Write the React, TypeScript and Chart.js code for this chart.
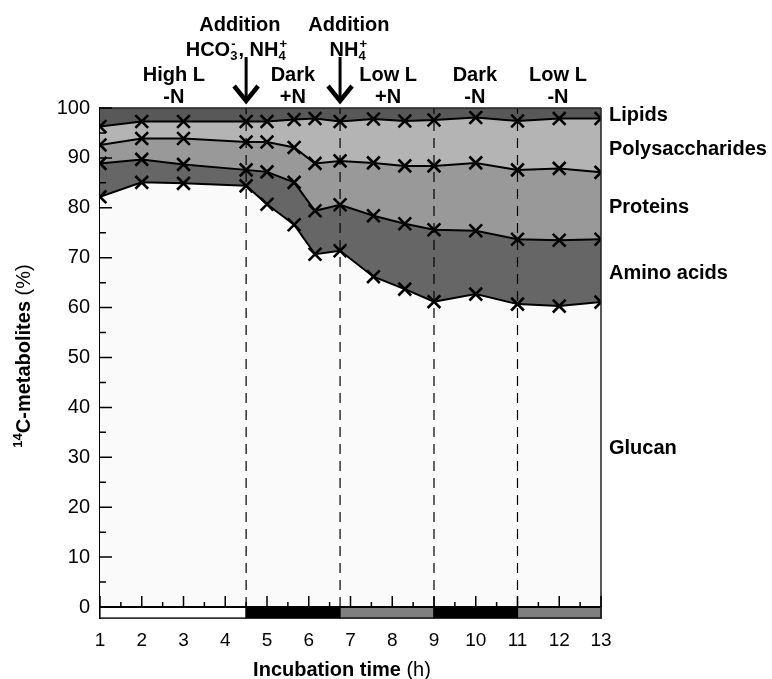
import React, { useEffect, useRef } from "react";
import { Chart, registerables } from "chart.js";

Chart.register(...registerables);

// ---- Data ----
const hours = [1, 2, 3, 4.5, 5, 5.65, 6.15, 6.75, 7.55, 8.3, 9, 10, 11, 12, 13];
// cumulative upper boundaries (%) of each stacked fraction
const glucanTop = [82.2, 85.1, 84.9, 84.4, 80.7, 76.6, 70.7, 71.4, 66.2, 63.7, 61.2, 62.7, 60.7, 60.3, 61.1];
const aminoTop = [88.9, 89.7, 88.7, 87.6, 87.2, 85.1, 79.4, 80.6, 78.4, 76.8, 75.6, 75.4, 73.7, 73.5, 73.7];
const proteinTop = [92.6, 93.9, 93.9, 93.2, 93.2, 92.1, 88.9, 89.4, 89.0, 88.4, 88.4, 89.0, 87.6, 87.9, 87.1];
const polyTop = [96.3, 97.3, 97.3, 97.3, 97.3, 97.7, 97.9, 97.3, 97.8, 97.4, 97.6, 98.1, 97.4, 97.9, 97.9];
const lipidTop = [100, 100, 100, 100, 100, 100, 100, 100, 100, 100, 100, 100, 100, 100, 100];

const seriesNames = ["Glucan", "Amino acids", "Proteins", "Polysaccharides", "Lipids"];
const seriesLabelValues = [31.7, 66.9, 80.0, 91.6, 98.6];

const xTicks = [1, 2, 3, 4, 5, 6, 7, 8, 9, 10, 11, 12, 13];
const yTicks = [0, 10, 20, 30, 40, 50, 60, 70, 80, 90, 100];

const phaseBounds = [1, 4.5, 6.75, 9, 11, 13];
const phaseKinds = ["high", "dark", "low", "dark", "low"];
const phaseLine1 = ["High L", "Dark", "Low L", "Dark", "Low L"];
const phaseLine2 = ["-N", "+N", "+N", "-N", "-N"];
const phaseLabelCenters = [2.77, 5.62, 7.9, 9.98, 11.97];
const additionTimes = [4.5, 6.75];
const additionLabelCenters = [4.35, 6.96];

const FONT = '"Liberation Sans", Arial, Helvetica, sans-serif';
const fillColors = ["#fafafa", "#666666", "#999999", "#b4b4b4", "#585858"];
const kindColors: Record<string, string> = { high: "#ffffff", dark: "#000000", low: "#808080" };

type Seg = { t: string; bold?: boolean; kind?: "n" | "sub" | "sup" };

function segFont(s: Seg) {
  const size = s.kind === "sub" || s.kind === "sup" ? 13 : 20;
  return `${s.bold ? "bold " : ""}${size}px ${FONT}`;
}

function layoutRich(ctx: CanvasRenderingContext2D, segs: Seg[]) {
  const items: { s: Seg; dx: number }[] = [];
  let x = 0;
  for (let i = 0; i < segs.length; i++) {
    const s = segs[i];
    ctx.font = segFont(s);
    const w = ctx.measureText(s.t).width;
    if (s.kind === "sub" && segs[i + 1] && segs[i + 1].kind === "sup") {
      const n = segs[i + 1];
      ctx.font = segFont(n);
      const w2 = ctx.measureText(n.t).width;
      items.push({ s, dx: x });
      items.push({ s: n, dx: x + 1 });
      x += Math.max(w, w2 + 1) + 1;
      i++;
      continue;
    }
    items.push({ s, dx: x });
    x += w;
  }
  return { items, width: x };
}

function drawRich(ctx: CanvasRenderingContext2D, segs: Seg[], cx: number, baseline: number) {
  const { items, width } = layoutRich(ctx, segs);
  const x0 = cx - width / 2;
  ctx.textAlign = "left";
  ctx.textBaseline = "alphabetic";
  for (const it of items) {
    ctx.font = segFont(it.s);
    let yy = baseline;
    if (it.s.kind === "sub") yy += 4;
    if (it.s.kind === "sup") yy -= 8;
    ctx.fillText(it.s.t, x0 + it.dx, yy);
  }
}

const decorPlugin = {
  id: "decor",
  afterDatasetsDraw(chart: any) {
    const { ctx, chartArea } = chart;
    const x = chart.scales.x;
    const y = chart.scales.y;
    const y0 = y.getPixelForValue(0);
    const yb = y.getPixelForValue(y.min);
    ctx.save();
    // dashed phase boundaries
    ctx.strokeStyle = "#000";
    ctx.lineWidth = 1.2;
    ctx.setLineDash([10, 7]);
    for (const t of phaseBounds.slice(1, -1)) {
      const px = x.getPixelForValue(t);
      ctx.beginPath();
      ctx.moveTo(px, y0);
      ctx.lineTo(px, chartArea.top);
      ctx.stroke();
    }
    ctx.setLineDash([]);
    // light / dark bar
    for (let i = 0; i < phaseKinds.length; i++) {
      const a = x.getPixelForValue(phaseBounds[i]);
      const b = x.getPixelForValue(phaseBounds[i + 1]);
      ctx.fillStyle = kindColors[phaseKinds[i]];
      ctx.fillRect(a, y0, b - a, yb - y0);
      ctx.strokeStyle = "#000";
      ctx.lineWidth = 1.2;
      ctx.strokeRect(a, y0, b - a, yb - y0);
    }
    // zero line
    ctx.strokeStyle = "#000";
    ctx.lineWidth = 2;
    ctx.beginPath();
    ctx.moveTo(chartArea.left, y0);
    ctx.lineTo(chartArea.right, y0);
    ctx.stroke();
    // right and top frame
    ctx.lineWidth = 1.5;
    ctx.strokeStyle = "#222";
    ctx.beginPath();
    ctx.moveTo(chartArea.right, chartArea.top);
    ctx.lineTo(chartArea.right, yb);
    ctx.moveTo(chartArea.left, chartArea.top);
    ctx.lineTo(chartArea.right, chartArea.top);
    ctx.stroke();
    // inside ticks on x axis
    ctx.strokeStyle = "#000";
    ctx.lineWidth = 1.5;
    ctx.beginPath();
    for (let v = x.min; v <= x.max + 1e-6; v += 0.5) {
      const px = x.getPixelForValue(v);
      const len = Math.abs(v - Math.round(v)) < 1e-6 ? 11 : 5;
      ctx.moveTo(px, y0);
      ctx.lineTo(px, y0 - len);
    }
    // inside ticks on y axis
    for (let v = 0; v <= 100; v += 5) {
      const py = y.getPixelForValue(v);
      const len = v % 10 === 0 ? 12 : 6;
      ctx.moveTo(chartArea.left, py);
      ctx.lineTo(chartArea.left + len, py);
    }
    ctx.stroke();
    ctx.restore();
  },
  afterDraw(chart: any) {
    const { ctx, chartArea } = chart;
    const x = chart.scales.x;
    const y = chart.scales.y;
    ctx.save();
    ctx.fillStyle = "#000";
    // series labels on the right
    ctx.font = `bold 20px ${FONT}`;
    ctx.textAlign = "left";
    ctx.textBaseline = "middle";
    seriesNames.forEach((n, i) => {
      ctx.fillText(n, chartArea.right + 8, y.getPixelForValue(seriesLabelValues[i]));
    });
    // phase labels above
    ctx.textAlign = "center";
    ctx.textBaseline = "alphabetic";
    phaseLine1.forEach((t, i) => {
      const px = x.getPixelForValue(phaseLabelCenters[i]);
      ctx.font = `bold 20px ${FONT}`;
      ctx.fillText(t, px, 81);
      ctx.fillText(phaseLine2[i], px, 103);
    });
    // addition labels
    additionLabelCenters.forEach((c) => {
      ctx.textAlign = "center";
      ctx.textBaseline = "alphabetic";
      ctx.font = `bold 20px ${FONT}`;
      ctx.fillText("Addition", x.getPixelForValue(c), 31);
    });
    drawRich(
      ctx,
      [
        { t: "HCO", bold: true },
        { t: "3", bold: true, kind: "sub" },
        { t: "-", bold: true, kind: "sup" },
        { t: ", NH", bold: true },
        { t: "4", bold: true, kind: "sub" },
        { t: "+", bold: true, kind: "sup" },
      ],
      x.getPixelForValue(additionLabelCenters[0]) - 3,
      56
    );
    drawRich(
      ctx,
      [
        { t: "NH", bold: true },
        { t: "4", bold: true, kind: "sub" },
        { t: "+", bold: true, kind: "sup" },
      ],
      x.getPixelForValue(additionLabelCenters[1]),
      56
    );
    // arrows
    ctx.strokeStyle = "#000";
    additionTimes.forEach((t) => {
      const px = x.getPixelForValue(t);
      ctx.lineWidth = 3;
      ctx.beginPath();
      ctx.moveTo(px, 57);
      ctx.lineTo(px, 100);
      ctx.stroke();
      ctx.lineWidth = 4.5;
      ctx.lineJoin = "miter";
      ctx.beginPath();
      ctx.moveTo(px - 12, 86);
      ctx.lineTo(px, 101);
      ctx.lineTo(px + 12, 86);
      ctx.stroke();
    });
    // x title
    drawRich(
      ctx,
      [
        { t: "Incubation time", bold: true },
        { t: " (h)" },
      ],
      342,
      676
    );
    // y title (rotated)
    ctx.translate(30, 356);
    ctx.rotate(-Math.PI / 2);
    drawRich(
      ctx,
      [
        { t: "14", bold: true, kind: "sup" },
        { t: "C-metabolites", bold: true },
        { t: " (%)" },
      ],
      0,
      0
    );
    ctx.restore();
  },
};

export default function App() {
  const ref = useRef<HTMLCanvasElement | null>(null);
  useEffect(() => {
    if (!ref.current) return;
    const mk = (vals: number[]) => hours.map((h, i) => ({ x: h, y: vals[i] }));
    const lineDs = (label: string, vals: number[], color: string, fill: any, points: boolean) => ({
      label,
      data: mk(vals),
      borderColor: points ? "#000" : "rgba(0,0,0,0)",
      borderWidth: points ? 2 : 0,
      backgroundColor: color,
      fill,
      tension: 0,
      pointStyle: "crossRot",
      pointRadius: points ? 9 : 0,
      pointBorderWidth: 2.6,
      pointBorderColor: "#000",
      pointHoverRadius: 0,
    });
    const chart = new Chart(ref.current, {
      type: "line",
      data: {
        datasets: [
          lineDs(seriesNames[0], glucanTop, fillColors[0], "origin", true),
          lineDs(seriesNames[1], aminoTop, fillColors[1], "-1", true),
          lineDs(seriesNames[2], proteinTop, fillColors[2], "-1", true),
          lineDs(seriesNames[3], polyTop, fillColors[3], "-1", true),
          lineDs(seriesNames[4], lipidTop, fillColors[4], "-1", false),
        ] as any,
      },
      options: {
        animation: false,
        responsive: false,
        events: [],
        layout: { padding: { left: 0, right: 171, top: 108, bottom: 0 } },
        plugins: { legend: { display: false }, tooltip: { enabled: false } },
        scales: {
          x: {
            type: "linear",
            min: 1,
            max: 13,
            grid: { display: false, drawTicks: false },
            border: { display: true, color: "#000", width: 1.5 },
            afterBuildTicks: (s: any) => {
              s.ticks = xTicks.map((v) => ({ value: v }));
            },
            afterFit: (s: any) => {
              s.height = 61;
            },
            ticks: {
              color: "#000",
              font: { family: FONT, size: 19 },
              padding: 11,
              maxRotation: 0,
              autoSkip: false,
            },
          },
          y: {
            type: "linear",
            min: -2.2,
            max: 100,
            grid: { display: false, drawTicks: false },
            border: { display: true, color: "#000", width: 2 },
            afterBuildTicks: (s: any) => {
              s.ticks = yTicks.map((v) => ({ value: v }));
            },
            afterFit: (s: any) => {
              s.width = 100;
            },
            ticks: {
              color: "#000",
              font: { family: FONT, size: 20 },
              padding: 10,
            },
          },
        },
      },
      plugins: [decorPlugin],
    });
    return () => chart.destroy();
  }, []);
  return (
    <div style={{ position: "fixed", left: 0, top: 0, width: 772, height: 679, background: "#fff" }}>
      <canvas ref={ref} width={772} height={679} style={{ display: "block" }} />
    </div>
  );
}
